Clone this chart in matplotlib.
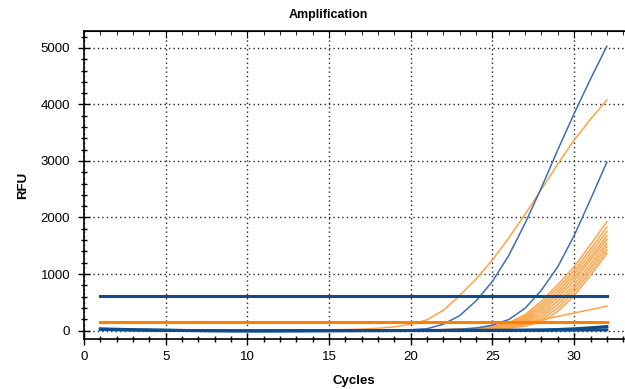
import matplotlib.pyplot as plt
from matplotlib.ticker import MultipleLocator

plt.rcParams['font.family'] = ['Liberation Sans', 'DejaVu Sans']

cycles = list(range(1, 33))

# amplification curves, RFU per cycle (cycles 1..32)
blue_a = [12, 8, 5, 3, 2, 0, -2, -3, -4, -3, -2, -1, 0, 1, 2, 3,
          4, 6, 9, 15, 32, 112, 265, 525, 870, 1330, 1900, 2530, 3200, 3840, 4450, 5030]
blue_c = [15, 10, 6, 3, 1, -1, -3, -4, -4, -3, -2, -1, 0, 1, 2, 3,
          4, 5, 6, 8, 10, 14, 22, 45, 95, 195, 395, 715, 1130, 1680, 2320, 2980]
orange_b = [10, 6, 4, 2, 0, -1, -2, -2, -1, 0, 1, 3, 5, 8, 12, 17,
            25, 40, 65, 110, 190, 360, 620, 915, 1250, 1640, 2060, 2500, 2950, 3370, 3740, 4080]

orange_1 = [9, 6, 4, 2, 1, 0, -1, -1, 0, 0, 1, 1, 2, 2, 3, 4,
            5, 6, 8, 10, 13, 16, 25, 40, 75, 140, 280, 520, 810, 1130, 1520, 1925]
orange_2 = [8, 5, 3, 2, 1, 0, -1, -1, -1, 0, 0, 1, 1, 2, 3, 3,
            4, 5, 7, 9, 11, 14, 22, 35, 65, 125, 250, 470, 750, 1060, 1440, 1830]
orange_3 = [7, 5, 3, 1, 0, -1, -2, -2, -1, -1, 0, 0, 1, 1, 2, 3,
            4, 5, 6, 8, 10, 13, 20, 30, 58, 110, 220, 420, 690, 1000, 1370, 1750]
orange_4 = [10, 7, 4, 2, 1, 0, -1, -2, -2, -1, 0, 0, 1, 2, 2, 3,
            3, 4, 5, 7, 9, 12, 18, 27, 50, 98, 195, 375, 635, 940, 1300, 1675]
orange_5 = [6, 4, 2, 1, 0, 0, -1, -1, -1, 0, 0, 1, 1, 1, 2, 2,
            3, 4, 5, 6, 8, 11, 16, 24, 44, 85, 170, 330, 580, 880, 1245, 1615]
orange_6 = [8, 6, 4, 2, 1, 0, 0, -1, -1, -1, 0, 0, 1, 1, 2, 2,
            3, 3, 4, 6, 7, 10, 14, 20, 38, 72, 145, 285, 520, 810, 1175, 1545]
orange_7 = [5, 4, 2, 1, 0, -1, -1, -2, -2, -1, -1, 0, 0, 1, 1, 2,
            2, 3, 4, 5, 6, 9, 12, 17, 32, 60, 120, 240, 460, 750, 1110, 1485]
orange_8 = [7, 5, 3, 2, 1, 0, 0, -1, -1, 0, 0, 0, 1, 1, 1, 2,
            2, 3, 3, 4, 5, 7, 10, 13, 26, 50, 100, 195, 400, 685, 1045, 1425]
orange_9 = [6, 4, 3, 1, 0, 0, -1, -1, -1, -1, 0, 0, 0, 1, 1, 1,
            2, 2, 3, 4, 5, 6, 8, 10, 20, 40, 80, 150, 340, 620, 980, 1365]
orange_low = [8, 5, 3, 1, 0, -1, -2, -2, -1, 0, 0, 1, 1, 2, 3, 3,
              4, 5, 6, 8, 10, 12, 15, 20, 40, 80, 130, 190, 250, 310, 370, 430]
orange_flat = [5, 3, 2, 1, 0, -1, -1, -2, -2, -1, -1, 0, 0, 0, 1, 1,
               1, 2, 2, 2, 3, 3, 4, 4, 5, 6, 7, 8, 10, 12, 14, 16]

blue_base_1 = [30, 22, 15, 10, 6, 2, 0, -3, -5, -6, -7, -6, -5, -4, -3, -2,
               -2, -1, 0, 0, 1, 1, 2, 2, 3, 4, 6, 10, 18, 30, 48, 70]
blue_base_2 = [20, 15, 10, 6, 3, 0, -2, -4, -5, -6, -6, -5, -4, -3, -2, -2,
               -1, -1, 0, 0, 0, 1, 1, 2, 2, 3, 4, 5, 6, 8, 10, 12]

blue_threshold = 615
orange_threshold = 150

fig = plt.figure(figsize=(6.25, 3.89), dpi=100)
ax = fig.add_axes([84 / 625, 1 - 339 / 389, 540 / 625, 308 / 389])

thin_blue = '#3d6fb0'
thin_orange = '#ffa447'
dark_blue = '#0d4b8c'
dark_orange = '#ff8000'

for ys in [orange_1, orange_2, orange_3, orange_4, orange_5, orange_6,
           orange_7, orange_8, orange_9, orange_low, orange_flat, orange_b]:
    ax.plot(cycles, ys, color=thin_orange, lw=1.1, zorder=3)
for ys in [blue_a, blue_c]:
    ax.plot(cycles, ys, color=thin_blue, lw=1.1, zorder=3)
for ys in [blue_base_1, blue_base_2]:
    ax.plot(cycles, ys, color=dark_blue, lw=2.2, zorder=4)

ax.plot([cycles[0], cycles[-1]], [blue_threshold] * 2, color=dark_blue, lw=2.2, zorder=5)
ax.plot([cycles[0], cycles[-1]], [orange_threshold] * 2, color=dark_orange, lw=2.2, zorder=5)

ax.set_xlim(0, 33.05)
ax.set_ylim(-150, 5300)
ax.xaxis.set_major_locator(MultipleLocator(5))
ax.xaxis.set_minor_locator(MultipleLocator(1))
ax.yaxis.set_major_locator(MultipleLocator(1000))
ax.yaxis.set_minor_locator(MultipleLocator(200))
ax.tick_params(which='both', direction='inout', colors='black', labelsize=9.5)
ax.tick_params(which='major', length=8, width=1)
ax.tick_params(which='minor', length=4.5, width=1)
ax.tick_params(axis='y', pad=6)
ax.tick_params(axis='x', pad=5)

top = ax.secondary_xaxis('top')
top.xaxis.set_major_locator(MultipleLocator(5))
top.xaxis.set_minor_locator(MultipleLocator(1))
top.tick_params(which='both', direction='in', labeltop=False)
top.tick_params(which='major', length=5)
top.tick_params(which='minor', length=3)

ax.grid(True, which='major', color='#222222', lw=1.0, linestyle=(0, (1, 2.2)))
ax.spines['right'].set_visible(False)
for s in ['left', 'bottom', 'top']:
    ax.spines[s].set_linewidth(1.2)

fig.text(328 / 625, 1 - 15 / 389, 'Amplification', ha='center', va='center',
         fontsize=9, fontweight='bold')
ax.set_xlabel('Cycles', fontsize=9.5, fontweight='bold', labelpad=8)
ax.set_ylabel('RFU', fontsize=9.5, fontweight='bold', labelpad=8)

fig.savefig('out.png', dpi=100)
